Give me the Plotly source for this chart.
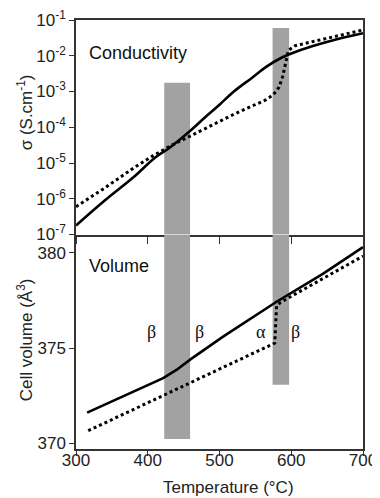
import plotly.graph_objects as go

# ---------------- data ----------------
# Conductivity panel (sigma in S/cm)
T_cond_solid = [300, 340, 380, 410, 430, 458, 480, 500, 520, 545, 565, 585, 600, 630, 665, 700]
sigma_solid = [1.78e-7, 8.9e-7, 3.98e-6, 1.41e-5, 2.63e-5, 7.6e-5, 1.91e-4, 4.27e-4,
               1.0e-3, 2.4e-3, 4.9e-3, 8.5e-3, 1.15e-2, 1.86e-2, 2.95e-2, 4.27e-2]

T_cond_dot = [300, 340, 380, 407, 430, 458, 480, 500, 520, 545, 565, 575, 583, 588,
              592, 596, 605, 630, 650, 675, 700]
sigma_dot = [6.0e-7, 2.0e-6, 7.2e-6, 1.58e-5, 2.9e-5, 5.6e-5, 9.5e-5, 1.45e-4, 2.3e-4,
             3.8e-4, 5.9e-4, 8.1e-4, 1.32e-3, 2.6e-3, 6.6e-3, 1.41e-2, 1.9e-2, 2.5e-2,
             3.0e-2, 4.0e-2, 5.25e-2]

# Volume panel (cell volume in A^3)
T_vol_solid = [315.5, 421.5, 440, 460, 505, 551.5, 579, 644, 700]
vol_solid = [371.61, 373.42, 373.85, 374.42, 375.6, 376.75, 377.42, 378.9, 380.3]

T_vol_dot = [317, 577, 579.5, 585, 700]
vol_dot = [370.66, 375.26, 377.2, 377.4, 379.83]

# Transition bands (temperature ranges) and their extents
band_T = [(423, 459), (574, 597)]
band_sigma_top = [1.75e-3, 6.0e-2]
band_vol_bottom = [370.23, 373.07]

# Phase labels
phase_labels = ["β", "β", "α", "β"]
phase_x = [0.263, 0.431, 0.646, 0.7656]

x_ticks = [300, 400, 500, 600, 700]
sigma_ticks = [1e-1, 1e-2, 1e-3, 1e-4, 1e-5, 1e-6, 1e-7]
sigma_ticktext = ["10<sup>-1</sup>", "10<sup>-2</sup>", "10<sup>-3</sup>", "10<sup>-4</sup>",
                  "10<sup>-5</sup>", "10<sup>-6</sup>", "10<sup>-7</sup>"]
vol_ticks = [370, 375, 380]

# ---------------- figure ----------------
FONT = "Liberation Sans, Arial, sans-serif"
AX = "#333333"
fig = go.Figure()

line_solid = dict(color="black", width=2.6)
line_dot = dict(color="black", width=3, dash="dot")

fig.add_trace(go.Scatter(x=T_cond_solid, y=sigma_solid, mode="lines", line=line_solid,
                         line_shape="spline", xaxis="x", yaxis="y", showlegend=False))
fig.add_trace(go.Scatter(x=T_cond_dot, y=sigma_dot, mode="lines", line=line_dot,
                         xaxis="x", yaxis="y", showlegend=False))
fig.add_trace(go.Scatter(x=T_vol_solid, y=vol_solid, mode="lines", line=line_solid,
                         xaxis="x2", yaxis="y2", showlegend=False))
fig.add_trace(go.Scatter(x=T_vol_dot, y=vol_dot, mode="lines", line=line_dot,
                         xaxis="x2", yaxis="y2", showlegend=False))

shapes = []
for (t0, t1), stop, vbot in zip(band_T, band_sigma_top, band_vol_bottom):
    shapes.append(dict(type="rect", xref="x", yref="y", x0=t0, x1=t1, y0=1e-7, y1=stop,
                       fillcolor="#a2a2a2", line=dict(width=0), layer="below"))
    shapes.append(dict(type="rect", xref="x2", yref="y2", x0=t0, x1=t1, y0=vbot, y1=380.963,
                       fillcolor="#a2a2a2", line=dict(width=0), layer="below"))

annotations = [
    dict(text="Conductivity", x=0.0376, y=0.923, xref="paper", yref="paper",
         xanchor="left", yanchor="middle", showarrow=False,
         font=dict(family=FONT, size=18, color="#111")),
    dict(text="Volume", x=0.0376, y=0.4266, xref="paper", yref="paper",
         xanchor="left", yanchor="middle", showarrow=False,
         font=dict(family=FONT, size=18, color="#111")),
    dict(text="σ (S.cm<sup>-1</sup>)", x=-0.1766, y=0.7855, xref="paper", yref="paper",
         textangle=-90, xanchor="center", yanchor="middle", showarrow=False,
         font=dict(family=FONT, size=17, color="#222")),
    dict(text="Cell volume (Å<sup>3</sup>)", x=-0.1766, y=0.254, xref="paper", yref="paper",
         textangle=-90, xanchor="center", yanchor="middle", showarrow=False,
         font=dict(family=FONT, size=17, color="#222")),
    dict(text="Temperature (°C)", x=0.531, y=-0.0909, xref="paper", yref="paper",
         xanchor="center", yanchor="middle", showarrow=False,
         font=dict(family=FONT, size=17, color="#222")),
]
for lab, px in zip(phase_labels, phase_x):
    annotations.append(dict(text=lab, x=px, y=0.2734, xref="paper", yref="paper",
                            xanchor="center", yanchor="middle", showarrow=False,
                            font=dict(family="Liberation Serif, Times New Roman, serif",
                                      size=18, color="#111")))

common = dict(showgrid=False, zeroline=False, automargin=False, tickcolor=AX,
              tickwidth=1.3, showline=True, linecolor=AX, linewidth=1.5,
              ticklabeloverflow="allow")

# the page body adds an 8px margin, so the figure is 8px smaller on each side
fig.update_layout(
    width=372, height=490,
    margin=dict(l=68, r=17, t=12, b=49, autoexpand=False),
    paper_bgcolor="white", plot_bgcolor="rgba(0,0,0,0)",
    font=dict(family=FONT, size=17, color="#222"),
    shapes=shapes, annotations=annotations,
    xaxis=dict(domain=[0, 1], anchor="y", range=[300, 700], tickvals=x_ticks,
               showticklabels=False, ticks="outside", ticklen=8, mirror=True, **common),
    yaxis=dict(domain=[0.5, 1], anchor="x", type="log", range=[-7, -1],
               tickvals=sigma_ticks, ticktext=sigma_ticktext, ticks="outside",
               ticklen=5, mirror=True, tickfont=dict(size=17), **common),
    xaxis2=dict(domain=[0, 1], anchor="y2", range=[300, 700], tickvals=x_ticks,
                ticks="outside", ticklen=5, tickfont=dict(size=17),
                ticklabelstandoff=-10, **common),
    yaxis2=dict(domain=[0, 0.5], anchor="x2", range=[369.70, 380.963],
                tickvals=vol_ticks, ticks="outside", ticklen=5, mirror=True,
                tickfont=dict(size=17), **common),
)

fig.write_html("out.html")
